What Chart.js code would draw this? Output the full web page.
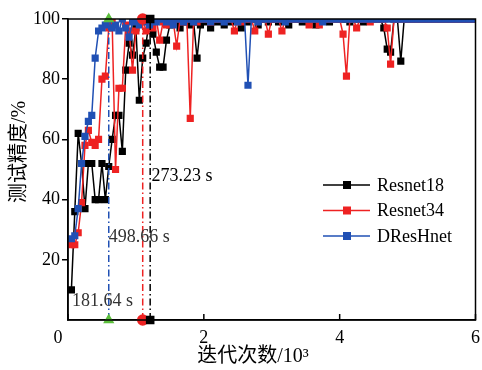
<!DOCTYPE html>
<html>
<head>
<meta charset="utf-8">
<script src="https://cdn.jsdelivr.net/npm/chart.js@4"></script>
<style>
html, body { margin: 0; padding: 0; background: #fff; overflow: hidden; }
</style>
</head>
<body>
<div style="width:482px;height:370px"><canvas id="myChart"></canvas></div>
<script>
// iterations, in thousands
var iterations = [
  0.05,0.10,0.15,0.20,0.25,0.30,0.35,0.40,0.45,0.50,0.55,0.60,0.65,0.70,0.75,0.80,0.85,0.90,0.95,1.00,
  1.05,1.10,1.15,1.20,1.25,1.30,1.35,1.40,1.45,1.50,1.55,1.60,1.65,1.70,1.75,1.80,1.85,1.90,1.95,2.00,
  2.05,2.10,2.15,2.20,2.25,2.30,2.35,2.40,2.45,2.50,2.55,2.60,2.65,2.70,2.75,2.80,2.85,2.90,2.95,3.00,
  3.05,3.10,3.15,3.20,3.25,3.30,3.35,3.40,3.45,3.50,3.55,3.60,3.65,3.70,3.75,3.80,3.85,3.90,3.95,4.00,
  4.05,4.10,4.15,4.20,4.25,4.30,4.35,4.40,4.45,4.50,4.55,4.60,4.65,4.70,4.75,4.80,4.85,4.90,4.95,5.00,
  5.05,5.10,5.15,5.20,5.25,5.30,5.35,5.40,5.45,5.50,5.55,5.60,5.65,5.70,5.75,5.80,5.85,5.90,5.95,6.00
];
var resnet18 = [
  10,36,62,52,37,52,52,40,40,52,40,51,60,68,68,56,83,92,88,97,
  73,87,92,100,95,89,84,84,93,98,100,99,97,100,99,98,99,87,98,100,
  99,97,100,99,100,98,100,99,100,100,97,100,99,100,100,98,100,100,99,100,
  100,99,100,100,98,100,100,100,99,100,100,100,98,100,100,100,99,100,100,100,
  100,100,99,100,100,100,99,100,100,100,100,100,97,90,89,100,100,86,100,100,
  100,100,100,100,100,100,100,100,100,100,100,100,100,100,100,100,100,100,100,100
];
var resnet34 = [
  25,25,29,39,58,63,59,58,60,80,81,97,99,50,77,77,98,96,83,96,
  99,100,96,100,97,100,93,99,98,100,99,91,100,99,100,67,100,99,100,100,
  100,99,100,100,100,100,100,100,96,100,99,100,100,100,96,100,100,100,95,100,
  100,100,96,100,100,100,100,100,100,100,98,100,100,98,100,100,100,100,100,100,
  95,81,100,100,97,100,100,100,99,100,100,100,100,97,85,100,100,100,100,100,
  100,100,100,100,100,100,100,100,100,100,100,100,100,100,100,100,100,100,100,100
];
var dreshnet = [
  27,28,37,52,61,66,68,87,96,97,98,100,97,98,96,100,97,94,99,100,
  98,100,99,98,100,99,100,100,99,100,98,100,100,99,100,100,99,100,100,100,
  100,99,100,100,100,99,100,100,100,99,100,100,78,100,100,99,100,100,100,100,
  100,100,100,99,100,100,100,100,100,100,100,100,100,100,99,100,100,100,100,100,
  100,100,100,100,100,100,100,100,100,100,100,100,100,100,100,100,100,100,100,100,
  100,100,100,100,100,100,100,100,100,100,100,100,100,100,100,100,100,100,100,100
];
var seriesNames = ["Resnet18", "Resnet34", "DResHnet"];
var xTicks = [0, 2, 4, 6];
var yTicks = [20, 40, 60, 80, 100];
// convergence markers (iterations in thousands)
var convergeX = [1.21, 1.10, 0.60];
var timeLabels = ["273.23 s", "498.66 s", "181.64 s"];
var timeLabelPos = [[1.23, 47.8], [0.60, 27.5], [0.06, 6.2]];

var black = "#000000", red = "#ee2222", blue = "#2050b4", green = "#5cbf3c";
var serif = "'Liberation Serif', 'Noto Sans CJK SC', serif";

function pts(ys) {
  return ys.map(function (v, i) { return { x: iterations[i], y: v }; });
}
function vline(x, color, style, fill) {
  return {
    data: [{ x: x, y: 0 }, { x: x, y: 100 }],
    borderColor: color, borderWidth: 1.5, borderDash: [7, 3, 1.5, 3],
    pointStyle: style, pointRadius: 5, pointBackgroundColor: fill, pointBorderColor: fill,
    clip: false, order: -1
  };
}
function series(ys, color, order) {
  return {
    data: pts(ys), borderColor: color, backgroundColor: color, borderWidth: 1.5,
    pointStyle: "rect", pointRadius: 4, pointBackgroundColor: color, pointBorderColor: color,
    order: order
  };
}

var extras = {
  id: "extras",
  afterDraw: function (chart) {
    var ctx = chart.ctx, a = chart.chartArea, sx = chart.scales.x, sy = chart.scales.y;
    ctx.save();
    ctx.strokeStyle = "#000";
    ctx.lineWidth = 1.5;
    ctx.strokeRect(a.left, a.top, a.right - a.left, a.bottom - a.top);
    // x ticks point inward, labels drawn here
    ctx.font = "18px " + serif;
    ctx.fillStyle = "#000";
    ctx.textAlign = "center";
    ctx.textBaseline = "middle";
    xTicks.forEach(function (v) {
      var px = sx.getPixelForValue(v);
      ctx.beginPath(); ctx.moveTo(px, a.bottom); ctx.lineTo(px, a.bottom - 6); ctx.stroke();
      ctx.fillText(String(v), v === 0 ? px - 10 : px, a.bottom + 18);
    });
    // time labels
    ctx.textAlign = "left";
    timeLabels.forEach(function (t, i) {
      ctx.fillStyle = i === 0 ? "#000" : "#333";
      ctx.fillText(t, sx.getPixelForValue(timeLabelPos[i][0]), sy.getPixelForValue(timeLabelPos[i][1]));
    });
    // legend
    var cols = [black, red, blue];
    for (var i = 0; i < 3; i++) {
      var ly = 185 + i * 25.5;
      ctx.strokeStyle = cols[i]; ctx.fillStyle = cols[i]; ctx.lineWidth = 1.5;
      ctx.beginPath(); ctx.moveTo(323, ly); ctx.lineTo(370, ly); ctx.stroke();
      ctx.fillRect(343, ly - 4, 8, 8);
      ctx.fillStyle = "#000";
      ctx.fillText(seriesNames[i], 377, ly + 1);
    }
    // axis titles
    ctx.font = "20px " + serif;
    ctx.textAlign = "center";
    ctx.fillText("迭代次数/10³", 253, 357);
    ctx.translate(20, 152);
    ctx.rotate(-Math.PI / 2);
    ctx.fillText("测试精度/%", 0, 0);
    ctx.restore();
  }
};

new Chart("myChart", {
  type: "line",
  data: {
    datasets: [
      series(resnet18, black, 2),
      series(resnet34, red, 1),
      series(dreshnet, blue, 0),
      vline(convergeX[0], black, "rect", black),
      vline(convergeX[1], red, "circle", red),
      vline(convergeX[2], blue, "triangle", green)
    ]
  },
  options: {
    responsive: true,
    maintainAspectRatio: false,
    animation: false,
    layout: { padding: { top: 19, right: -3, left: 0, bottom: 0 } },
    plugins: { legend: { display: false }, tooltip: { enabled: false } },
    elements: { line: { tension: 0 } },
    scales: {
      x: {
        type: "linear", min: 0, max: 6,
        afterBuildTicks: function (s) { s.ticks = xTicks.map(function (v) { return { value: v }; }); },
        afterFit: function (s) { s.height = 50; },
        grid: { display: false },
        border: { color: "#000", width: 1.5 },
        ticks: { display: false }
      },
      y: {
        min: 0, max: 100,
        afterBuildTicks: function (s) { s.ticks = yTicks.map(function (v) { return { value: v }; }); },
        afterFit: function (s) { s.width = 68; },
        grid: { drawOnChartArea: false, drawTicks: true, tickLength: 6, color: "#000", lineWidth: 1.5 },
        border: { color: "#000", width: 1.5 },
        ticks: { color: "#000", font: { family: serif, size: 18 }, padding: 2 }
      }
    }
  },
  plugins: [extras]
});
</script>
</body>
</html>
